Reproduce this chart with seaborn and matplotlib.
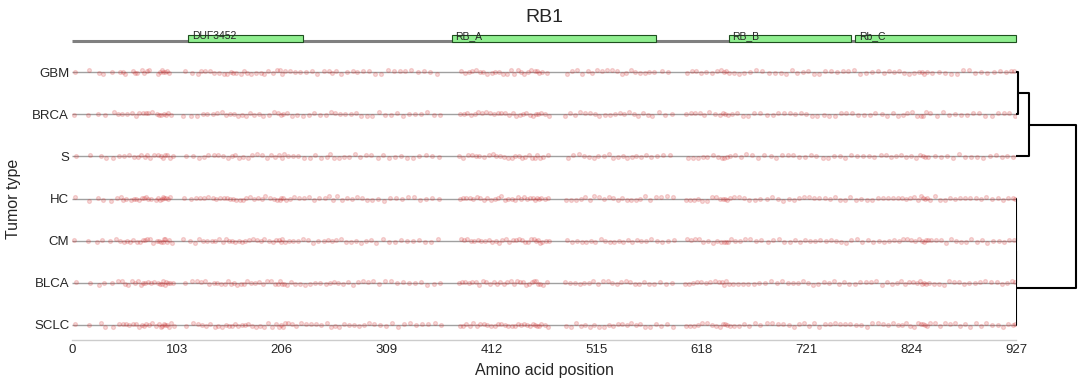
import matplotlib

matplotlib.use("Agg")

import matplotlib.pyplot as plt
import pandas as pd
import seaborn as sns
from matplotlib.patches import Rectangle

GENE = "RB1"
PROTEIN_LENGTH = 927
TUMORS = ["GBM", "BRCA", "S", "HC", "CM", "BLCA", "SCLC"]
XTICKS = [0, 103, 206, 309, 412, 515, 618, 721, 824, 927]

DOMAIN_NAMES = ["DUF3452", "RB_A", "RB_B", "Rb_C"]
DOMAIN_START = [114, 373, 645, 769]
DOMAIN_END = [227, 573, 765, 927]

# mutation positions per tumor type
POS_GBM = [3, 17, 27, 30, 39, 47, 50, 52, 60, 62, 64, 69, 71, 74, 76, 84, 86, 88, 89, 91, 93, 95, 111, 118, 124,
           127, 131, 136, 139, 144, 149, 152, 156, 158, 161, 166, 169, 172, 176, 181, 186, 189, 192, 197, 201, 204,
           206, 209, 214, 219, 224, 230, 236, 241, 247, 252, 255, 259, 264, 270, 276, 280, 286, 292, 298, 303, 310,
           316, 322, 327, 333, 340, 346, 352, 358, 382, 386, 390, 393, 397, 401, 404, 408, 412, 415, 419, 423, 427,
           431, 434, 438, 441, 444, 448, 451, 455, 457, 459, 462, 466, 486, 491, 496, 501, 507, 511, 516, 520, 525,
           530, 535, 540, 544, 549, 553, 558, 563, 567, 572, 579, 585, 604, 609, 613, 618, 623, 628, 633, 637, 640,
           642, 645, 650, 655, 660, 666, 672, 678, 684, 690, 696, 701, 707, 712, 718, 723, 729, 734, 739, 745, 751,
           757, 762, 768, 774, 780, 786, 791, 797, 802, 807, 812, 817, 822, 827, 832, 835, 837, 840, 845, 851, 857,
           863, 869, 875, 881, 887, 893, 899, 905, 911, 917, 922, 925]
POS_BRCA = [2, 16, 26, 32, 41, 45, 49, 54, 59, 63, 66, 70, 73, 75, 79, 83, 85, 87, 90, 92, 94, 97, 109, 117, 123,
            129, 133, 138, 142, 147, 151, 155, 159, 163, 167, 171, 175, 179, 184, 188, 193, 198, 202, 205, 207, 211,
            216, 221, 227, 233, 238, 244, 249, 254, 258, 263, 268, 274, 279, 284, 290, 295, 301, 307, 313, 319, 325,
            331, 337, 343, 349, 355, 361, 381, 385, 388, 392, 396, 399, 403, 407, 410, 414, 418, 421, 425, 429, 433,
            436, 440, 443, 446, 450, 453, 456, 458, 461, 464, 468, 484, 489, 494, 499, 504, 509, 514, 518, 523, 528,
            533, 538, 542, 547, 552, 556, 561, 566, 570, 576, 582, 589, 603, 608, 612, 617, 621, 626, 631, 636, 639,
            641, 644, 648, 653, 659, 664, 670, 676, 682, 688, 693, 699, 705, 710, 716, 721, 727, 732, 738, 743, 749,
            755, 760, 766, 772, 778, 784, 789, 795, 800, 806, 811, 816, 820, 825, 830, 834, 836, 839, 843, 849, 855,
            861, 867, 873, 879, 885, 891, 897, 903, 909, 915, 920, 926]
POS_S = [4, 18, 28, 33, 40, 46, 51, 56, 61, 65, 68, 72, 74, 77, 81, 84, 87, 89, 91, 93, 96, 99, 112, 119, 125, 130,
         134, 139, 143, 148, 153, 157, 160, 164, 168, 173, 177, 182, 187, 191, 195, 199, 203, 206, 208, 212, 217,
         222, 228, 234, 239, 245, 250, 253, 257, 262, 267, 272, 278, 283, 289, 294, 300, 305, 311, 317, 323, 329,
         335, 341, 348, 354, 360, 380, 384, 389, 393, 397, 400, 405, 409, 413, 416, 420, 424, 428, 432, 435, 439,
         442, 445, 449, 452, 455, 457, 460, 463, 467, 487, 492, 498, 503, 508, 513, 517, 522, 527, 531, 536, 541,
         545, 550, 554, 559, 564, 569, 574, 580, 587, 605, 610, 615, 620, 624, 629, 634, 638, 640, 643, 646, 651,
         657, 662, 668, 674, 680, 686, 691, 697, 703, 708, 714, 720, 726, 731, 737, 742, 748, 754, 759, 765, 771,
         777, 783, 788, 794, 799, 804, 809, 814, 819, 824, 829, 833, 836, 838, 841, 847, 853, 859, 865, 871, 877,
         883, 889, 895, 901, 907, 913, 918, 924]
POS_HC = [3, 17, 26, 30, 38, 44, 48, 50, 53, 58, 61, 63, 66, 69, 71, 73, 75, 78, 82, 84, 86, 88, 89, 90, 92, 94,
          96, 110, 117, 122, 126, 130, 134, 138, 141, 145, 149, 152, 155, 158, 161, 165, 168, 171, 175, 179, 183,
          187, 190, 194, 198, 201, 204, 205, 207, 210, 214, 218, 223, 228, 233, 238, 243, 248, 252, 256, 260, 265,
          270, 275, 280, 285, 290, 295, 300, 306, 312, 318, 324, 330, 336, 342, 348, 354, 360, 381, 384, 387, 391,
          394, 398, 401, 405, 408, 411, 415, 418, 421, 425, 428, 432, 435, 438, 441, 444, 447, 450, 453, 455, 457,
          459, 461, 464, 467, 485, 490, 495, 500, 504, 509, 513, 518, 522, 527, 531, 536, 540, 545, 549, 554, 558,
          563, 568, 573, 578, 584, 590, 603, 607, 611, 615, 619, 624, 628, 632, 636, 639, 641, 643, 646, 650, 655,
          660, 665, 671, 676, 682, 687, 693, 698, 704, 709, 714, 719, 724, 729, 734, 739, 744, 749, 754, 759, 764,
          770, 775, 781, 786, 791, 796, 801, 806, 811, 815, 819, 823, 827, 831, 834, 836, 838, 840, 843, 847, 852,
          857, 862, 867, 872, 877, 882, 888, 893, 898, 903, 909, 914, 919, 924, 926]
POS_CM = [2, 16, 25, 29, 37, 43, 47, 51, 54, 57, 60, 64, 67, 70, 72, 74, 77, 80, 83, 85, 87, 89, 90, 91, 93, 95,
          98, 109, 116, 121, 125, 129, 133, 137, 140, 144, 148, 151, 154, 157, 160, 164, 167, 170, 174, 178, 182,
          186, 189, 193, 197, 200, 203, 205, 206, 209, 213, 217, 222, 227, 232, 237, 242, 247, 251, 255, 259, 264,
          269, 274, 279, 284, 289, 294, 299, 305, 311, 317, 323, 329, 335, 341, 347, 353, 359, 382, 385, 388, 392,
          395, 399, 402, 406, 409, 412, 416, 419, 422, 426, 429, 433, 436, 439, 442, 445, 448, 451, 454, 456, 458,
          460, 462, 465, 468, 486, 491, 496, 501, 505, 510, 514, 519, 523, 528, 532, 537, 541, 546, 550, 555, 559,
          564, 569, 574, 579, 585, 591, 604, 608, 612, 616, 620, 625, 629, 633, 637, 640, 642, 644, 647, 651, 656,
          661, 666, 672, 677, 683, 688, 694, 699, 705, 710, 715, 720, 725, 730, 735, 740, 745, 750, 755, 760, 765,
          771, 776, 782, 787, 792, 797, 802, 807, 812, 816, 820, 824, 828, 832, 835, 837, 839, 841, 844, 848, 853,
          858, 863, 868, 873, 878, 883, 889, 894, 899, 904, 910, 915, 920, 925]
POS_BLCA = [4, 18, 27, 31, 39, 45, 49, 52, 55, 59, 62, 65, 68, 70, 72, 75, 78, 81, 84, 86, 88, 89, 91, 92, 94, 96,
            99, 111, 118, 123, 127, 131, 135, 139, 142, 146, 150, 153, 156, 159, 162, 166, 169, 172, 176, 180, 184,
            188, 191, 195, 199, 202, 204, 206, 208, 211, 215, 219, 224, 229, 234, 239, 244, 249, 253, 257, 261, 266,
            271, 276, 281, 286, 291, 296, 301, 307, 313, 319, 325, 331, 337, 343, 349, 355, 361, 380, 383, 386, 390,
            393, 397, 400, 404, 407, 410, 414, 417, 420, 424, 427, 431, 434, 437, 440, 443, 446, 449, 452, 454, 456,
            458, 460, 463, 466, 484, 489, 494, 499, 503, 508, 512, 517, 521, 526, 530, 535, 539, 544, 548, 553, 557,
            562, 567, 572, 577, 583, 589, 602, 606, 610, 614, 618, 623, 627, 631, 635, 638, 640, 642, 645, 649, 654,
            659, 664, 670, 675, 681, 686, 692, 697, 703, 708, 713, 718, 723, 728, 733, 738, 743, 748, 753, 758, 763,
            769, 774, 780, 785, 790, 795, 800, 805, 810, 814, 818, 822, 826, 830, 833, 835, 837, 839, 842, 846, 851,
            856, 861, 866, 871, 876, 881, 887, 892, 897, 902, 908, 913, 918, 923, 926]
POS_SCLC = [3, 17, 28, 32, 40, 46, 50, 53, 56, 60, 63, 66, 69, 71, 73, 76, 79, 82, 85, 87, 88, 90, 91, 93, 95, 97,
            100, 112, 119, 124, 128, 132, 136, 140, 143, 147, 151, 154, 157, 160, 163, 167, 170, 173, 177, 181, 185,
            189, 192, 196, 200, 203, 205, 207, 209, 212, 216, 220, 225, 230, 235, 240, 245, 250, 254, 258, 262, 267,
            272, 277, 282, 287, 292, 297, 302, 308, 314, 320, 326, 332, 338, 344, 350, 356, 362, 381, 384, 387, 391,
            394, 398, 401, 405, 408, 411, 415, 418, 421, 425, 428, 432, 435, 438, 441, 444, 447, 450, 453, 455, 457,
            459, 461, 464, 467, 485, 490, 495, 500, 504, 509, 513, 518, 522, 527, 531, 536, 540, 545, 549, 554, 558,
            563, 568, 573, 578, 584, 590, 603, 607, 611, 615, 619, 624, 628, 632, 636, 639, 641, 643, 646, 650, 655,
            660, 665, 671, 676, 682, 687, 693, 698, 704, 709, 714, 719, 724, 729, 734, 739, 744, 749, 754, 759, 764,
            770, 775, 781, 786, 791, 796, 801, 806, 811, 815, 819, 823, 827, 831, 834, 836, 838, 840, 843, 847, 852,
            857, 862, 867, 872, 877, 882, 888, 893, 898, 903, 909, 914, 919, 924, 926]

# dendrogram links, scipy style: child a, child b, height; new nodes are numbered after the leaves
LINK_A = [0, 3, 8, 9, 7, 11]
LINK_B = [1, 4, 5, 6, 2, 10]
LINK_H = [0.038, 0.0, 0.0, 0.0, 0.22, 1.0]

positions = [POS_GBM, POS_BRCA, POS_S, POS_HC, POS_CM, POS_BLCA, POS_SCLC]
df = pd.DataFrame(
    [(tumor, pos) for tumor, plist in zip(TUMORS, positions) for pos in plist],
    columns=["tumor", "position"],
)

W, H = 1089, 385
sns.set_theme(style="white")
plt.rcParams["font.family"] = ["Liberation Sans", "DejaVu Sans"]

fig = plt.figure(figsize=(W / 100, H / 100), dpi=100)
ylim = (6.36, -0.36)

# main strip panel
ax = fig.add_axes([72 / W, 1 - 340 / H, 944 / W, 283 / H])
ax.hlines(range(len(TUMORS)), 0, PROTEIN_LENGTH, color="#a0a0a0", lw=1, zorder=0)
sns.stripplot(
    data=df, x="position", y="tumor", order=TUMORS, jitter=0.05,
    color="#d62728", edgecolor="#d62728", linewidth=0.9, size=2.8, alpha=0.18,
    ax=ax, zorder=2,
)
ax.set_xlim(0, PROTEIN_LENGTH)
ax.set_ylim(*ylim)
ax.set_xticks(XTICKS)
ax.tick_params(axis="both", length=0, labelsize=9.5, colors="#262626")
ax.tick_params(axis="x", pad=3)
ax.tick_params(axis="y", pad=2)
ax.set_xlabel("Amino acid position", fontsize=11.5, color="#262626", labelpad=5)
ax.set_ylabel("Tumor type", fontsize=11.5, color="#262626", labelpad=8)
for side in ["left", "top", "right"]:
    ax.spines[side].set_visible(False)
ax.spines["bottom"].set_color("#cccccc")
ax.spines["bottom"].set_linewidth(1)

# domain track
ax_dom = fig.add_axes([72 / W, 1 - 48 / H, 944 / W, 18 / H])
ax_dom.set_xlim(0, PROTEIN_LENGTH)
ax_dom.set_ylim(0, 1)
ax_dom.axis("off")
ax_dom.plot([0, PROTEIN_LENGTH], [0.39, 0.39], color="gray", lw=2.2, solid_capstyle="butt", zorder=1)
for name, start, end in zip(DOMAIN_NAMES, DOMAIN_START, DOMAIN_END):
    ax_dom.add_patch(Rectangle((start, 0.33), end - start, 0.39, facecolor="#90ee90",
                               edgecolor="#1f4f1f", lw=0.8, zorder=2, clip_on=False))
    ax_dom.text(start + 3.5, 0.66, name, fontsize=7.5, va="center", ha="left", color="#262626", zorder=3)

fig.text(544 / W, 1 - 18 / H, GENE, fontsize=14, ha="center", va="center", color="#262626")

# dendrogram
ax_den = fig.add_axes([1016 / W, 1 - 340 / H, 64 / W, 283 / H])
ax_den.set_xlim(0, 1.07)
ax_den.set_ylim(*ylim)
ax_den.axis("off")
node_y = {i: float(i) for i in range(len(TUMORS))}
node_h = {i: 0.0 for i in range(len(TUMORS))}
for k, (a, b, h) in enumerate(zip(LINK_A, LINK_B, LINK_H)):
    ax_den.plot([node_h[a], h, h, node_h[b]], [node_y[a], node_y[a], node_y[b], node_y[b]],
                color="black", lw=1.5)
    node_y[len(TUMORS) + k] = (node_y[a] + node_y[b]) / 2
    node_h[len(TUMORS) + k] = h

fig.savefig("out.png", dpi=100)
plt.close(fig)
